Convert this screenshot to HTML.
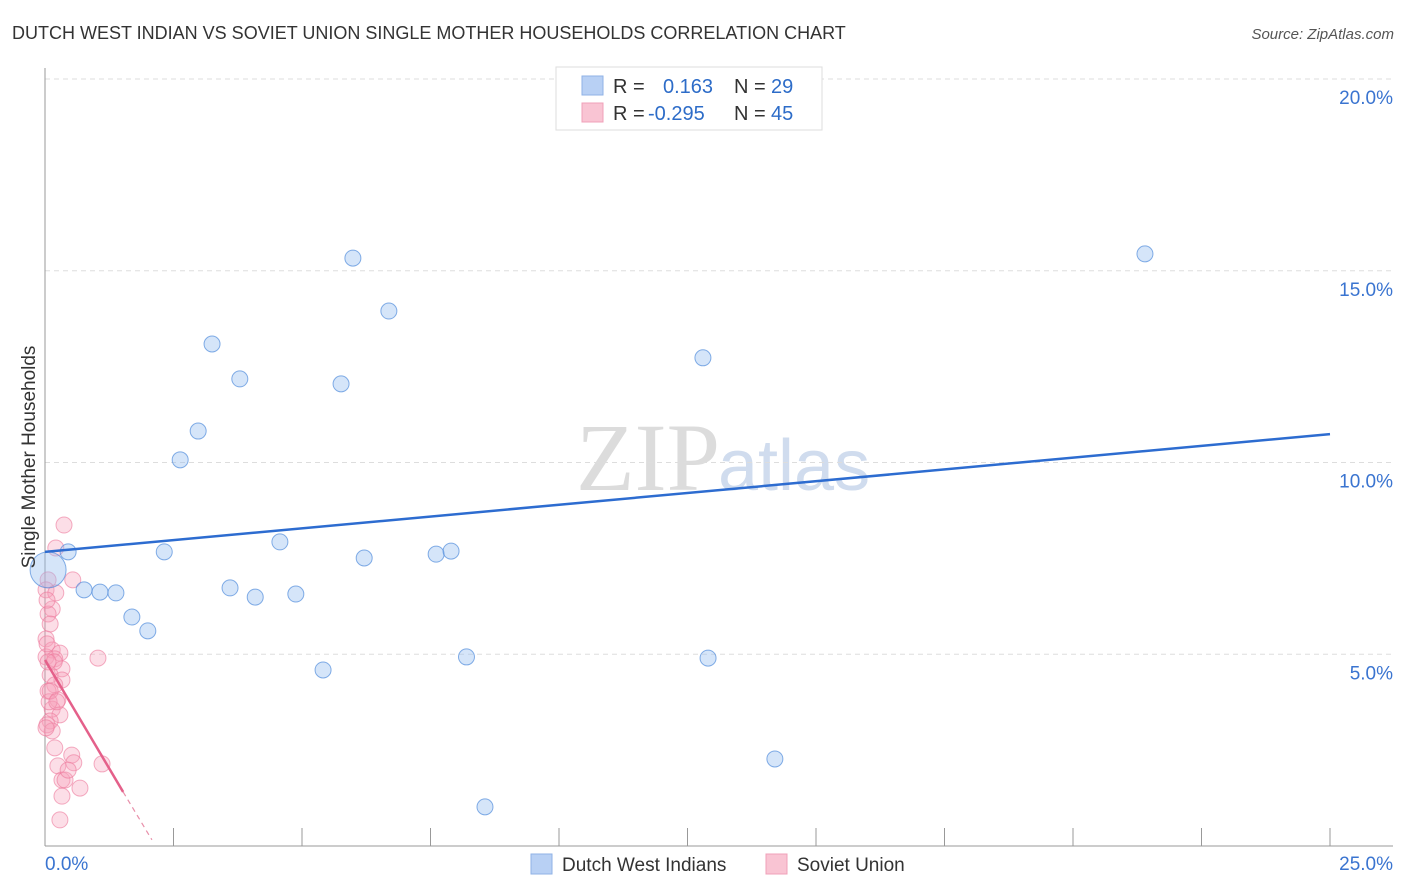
<!DOCTYPE html>
<html><head><meta charset="utf-8"><style>
body{margin:0;background:#fff;font-family:"Liberation Sans",sans-serif;}
#wrap{position:relative;width:1406px;height:892px;overflow:hidden;}
</style></head><body><div id="wrap">
<svg id="svg" width="1406" height="892" xmlns="http://www.w3.org/2000/svg">
<text x="12" y="39" font-size="18" fill="#333">DUTCH WEST INDIAN VS SOVIET UNION SINGLE MOTHER HOUSEHOLDS CORRELATION CHART</text>
<text x="1394" y="39" font-size="15" fill="#555" font-style="italic" text-anchor="end">Source: ZipAtlas.com</text>
<text x="720" y="490" font-size="96" fill="#dcdcdc" font-family="Liberation Serif,serif" text-anchor="end">ZIP</text>
<text x="718" y="490" font-size="72" fill="#d0dcee">atlas</text>
<g id="grid"></g>
<g id="marks"></g>
<text transform="translate(35,457) rotate(-90)" font-size="19" fill="#333" text-anchor="middle">Single Mother Households</text>
<g>
<rect x="556" y="67" width="266" height="63" fill="#fff" stroke="#ddd"/>
<rect x="582" y="76" width="21" height="19" fill="#b8d0f4" stroke="#8fb2e6"/>
<rect x="582" y="103" width="21" height="19" fill="#f9c4d3" stroke="#f0a0b8"/>
<text x="613" y="93" font-size="20" fill="#333">R = <tspan x="663" fill="#2d6cc8">0.163</tspan><tspan x="734" fill="#333">N = </tspan><tspan x="771" fill="#2d6cc8">29</tspan></text>
<text x="613" y="120" font-size="20" fill="#333">R = <tspan x="648" fill="#2d6cc8">-0.295</tspan><tspan x="734" fill="#333">N = </tspan><tspan x="771" fill="#2d6cc8">45</tspan></text>
</g>
<g>
<rect x="531" y="854" width="21" height="20" fill="#b8d0f4" stroke="#8fb2e6"/>
<text x="562" y="871" font-size="19" fill="#333">Dutch West Indians</text>
<rect x="766" y="854" width="21" height="20" fill="#f9c4d3" stroke="#f0a0b8"/>
<text x="797" y="871" font-size="19" fill="#333">Soviet Union</text>
</g>
</svg></div>
<script>
const yTicks=[5,10,15,20];
const yTickLabels=["5.0%","10.0%","15.0%","20.0%"];
const xTickLabels=["0.0%","25.0%"];
const blueX=[0.45,0.76,1.07,1.38,1.69,2.0,2.32,2.63,2.98,3.25,3.6,3.79,4.09,4.57,4.88,5.41,5.76,5.99,6.21,6.69,7.61,7.9,8.2,8.56,12.8,12.9,14.2,21.4,0.06];
const blueY=[7.67,6.68,6.62,6.6,5.97,5.61,7.67,10.07,10.82,13.09,6.73,12.18,6.49,7.93,6.57,4.59,12.05,15.33,7.51,13.95,7.61,7.69,4.93,1.02,12.73,4.9,2.27,15.44,7.2];
const pinkX=[0.37,0.21,0.54,0.06,0.02,0.21,0.14,0.06,0.1,0.02,0.14,0.29,0.02,0.19,1.03,0.33,0.1,0.33,0.19,0.06,0.25,0.14,0.29,0.1,0.04,0.14,0.19,0.52,0.25,0.56,1.11,0.33,0.39,0.68,0.33,0.29,0.04,0.04,0.08,0.02,0.18,0.1,0.23,0.45,0.06];
const pinkY=[8.37,7.77,6.94,6.94,6.68,6.6,6.18,6.05,5.79,5.4,5.11,5.03,4.93,4.88,4.9,4.62,4.46,4.33,4.2,4.04,3.81,3.57,3.42,3.26,3.16,3.0,2.56,2.37,2.09,2.17,2.14,1.72,1.72,1.51,1.3,0.68,6.41,5.27,3.76,3.08,4.8,4.04,3.76,1.98,4.8];
const blueTrend=[7.67,10.74];
const pinkTrend=[4.85,1.41,0.16];
const pinkTrendX=[0,1.52,2.08];
const NS="http://www.w3.org/2000/svg";
const X=v=>45+v*51.4, Y=v=>846-v*38.35;
function mk(t,a,p){const e=document.createElementNS(NS,t);for(const k in a)e.setAttribute(k,a[k]);p.appendChild(e);return e;}
const g=document.getElementById('grid'), m=document.getElementById('marks');
yTicks.forEach((t,i)=>{
 const l=mk('line',{x1:45,x2:1393,y1:Y(t),y2:Y(t),stroke:'#ddd','stroke-dasharray':'5,4'},g);
 
 
 const tx=mk('text',{x:1393,y:Y(t)+25,'font-size':19,fill:'#3a74d0','text-anchor':'end'},g);
 tx.textContent=yTickLabels[i];
 
 
});
const ax=mk('line',{x1:45,x2:45,y1:68,y2:846,stroke:'#999'},g);


const bx=mk('line',{x1:45,x2:1393,y1:846,y2:846,stroke:'#999'},g);


for(let i=1;i<=10;i++){const t=mk('line',{x1:X(i*2.5),x2:X(i*2.5),y1:828,y2:846,stroke:'#999'},g);
 
 }
[[0,'start',45],[25,'end',1393]].forEach((d,i)=>{const t=mk('text',{x:d[2],y:870,'font-size':19,fill:'#3a74d0','text-anchor':d[1]},g);t.textContent=xTickLabels[i];
 
 });
pinkX.forEach((x,i)=>{const c=mk('circle',{cx:X(x),cy:Y(pinkY[i]),r:8,fill:'rgba(246,160,186,0.35)',stroke:'rgba(236,120,155,0.6)','stroke-width':1},m);
 
 });
blueX.forEach((x,i)=>{const big=i===blueX.length-1;const c=mk('circle',{cx:X(x),cy:Y(blueY[i]),r:big?18:8,fill:'rgba(150,190,240,0.4)',stroke:'rgba(80,140,220,0.7)','stroke-width':1},m);
 
 });
const bt=mk('line',{x1:X(0),y1:Y(blueTrend[0]),x2:X(25),y2:Y(blueTrend[1]),stroke:'#2d6cd0','stroke-width':2.5},m);


const pt=mk('line',{x1:X(pinkTrendX[0]),y1:Y(pinkTrend[0]),x2:X(pinkTrendX[1]),y2:Y(pinkTrend[1]),stroke:'#e4608a','stroke-width':2.5},m);


const pd=mk('line',{x1:X(pinkTrendX[1]),y1:Y(pinkTrend[1]),x2:X(pinkTrendX[2]),y2:Y(pinkTrend[2]),stroke:'#e890aa','stroke-width':1.2,'stroke-dasharray':'5,4'},m);


</script></body></html>
